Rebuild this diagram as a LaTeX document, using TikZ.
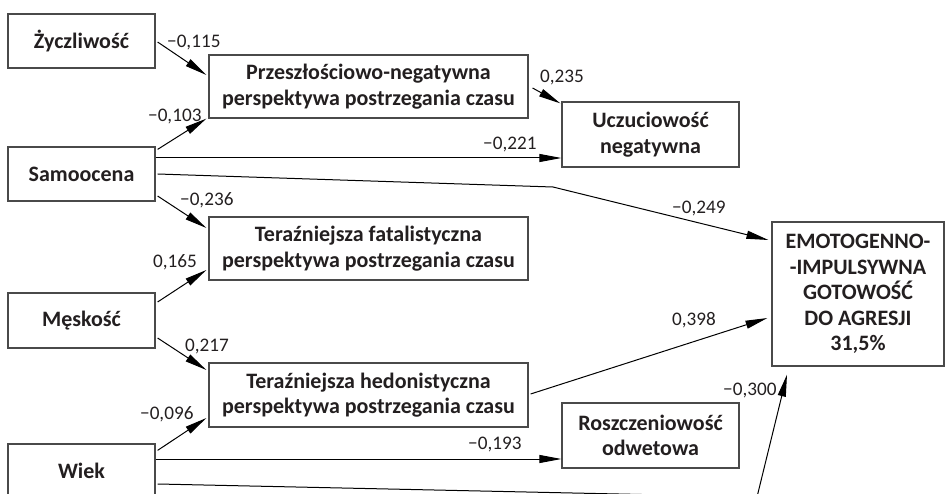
\documentclass[tikz,border=0pt]{standalone}
\usepackage{fontspec}
\setmainfont{Carlito}
\usetikzlibrary{arrows.meta}
\definecolor{txt}{HTML}{231F20}
\definecolor{frm}{HTML}{4A4A4A}
\tikzset{
  box/.style={draw=frm, line width=1.2pt, fill=white, align=center, inner sep=0pt,
    text=txt, font=\bfseries\fontsize{22}{25.5}\selectfont},
  lab/.style={anchor=base west, inner sep=0pt, text=txt, font=\fontsize{19.2}{22}\selectfont},
  arr/.style={draw=black, line width=1pt, -{Triangle[length=22pt,width=8pt]}},
}
\begin{document}
\begin{tikzpicture}[x=1pt,y=-1pt]
\useasboundingbox (0,0) rectangle (945,494);
\clip (0,0) rectangle (945,494);
% boxes
\node[box, minimum width=147pt, minimum height=54pt] (zy) at (81.5,41) {Życzliwość};
\node[box, minimum width=319pt, minimum height=63pt] (prz) at (368.5,86.5) {Przeszłościowo-negatywna\\perspektywa postrzegania czasu};
\node[box, minimum width=147pt, minimum height=54pt] (sam) at (81.5,174) {Samoocena};
\node[box, minimum width=177pt, minimum height=65pt] (ucz) at (650.5,134.5) {Uczuciowość\\negatywna};
\node[box, minimum width=319pt, minimum height=63pt] (fat) at (368.5,248.5) {Teraźniejsza fatalistyczna\\perspektywa postrzegania czasu};
\node[box, minimum width=147pt, minimum height=55pt] (mes) at (81.5,320.5) {Męskość};
\node[box, minimum width=319pt, minimum height=64pt] (hed) at (368.5,395) {Teraźniejsza hedonistyczna\\perspektywa postrzegania czasu};
\node[box, minimum width=177pt, minimum height=65pt] (ros) at (650.5,435.5) {Roszczeniowość\\odwetowa};
\node[box, minimum width=147pt, minimum height=54pt] (wie) at (81.5,471) {Wiek};
\node[box, minimum width=172pt, minimum height=144pt] (emo) at (858,294) {EMOTOGENNO-\\-IMPULSYWNA\\GOTOWOŚĆ\\DO AGRESJI\\31,5\%};
% helper coordinates
\coordinate (u1) at ([yshift=-23.5pt]ucz.west);
\coordinate (r1) at ([yshift=-23.5pt]ros.west);
\coordinate (bend1) at (553,187);
\coordinate (bend2) at (757,497);
% connectors
\draw[arr] ([xshift=2pt,yshift=-1pt]zy.east) -- ([xshift=-2pt,yshift=11.5pt]prz.west);
\draw[arr] ([xshift=2pt,yshift=-3pt]sam.north east) -- ([xshift=-2pt]prz.south west);
\draw[arr] ([xshift=4pt,yshift=-1.5pt]prz.east) -- ([xshift=-1pt,yshift=-2pt]ucz.north west);
\draw[arr] (sam.east |- u1) -- (u1);
\draw[arr] ([xshift=2pt]sam.east) -- (bend1) -- ([xshift=-3pt,yshift=54pt]emo.west);
\draw[arr] ([xshift=2pt,yshift=-22pt]sam.east) -- ([xshift=-2pt,yshift=20.5pt]fat.west);
\draw[arr] ([xshift=2pt,yshift=18.5pt]mes.east) -- ([xshift=-2pt,yshift=-21.5pt]fat.west);
\draw[arr] ([xshift=2pt,yshift=-17.5pt]mes.east) -- ([xshift=-2pt,yshift=25pt]hed.west);
\draw[arr] ([xshift=2pt,yshift=-7pt]wie.north east) -- ([xshift=-2pt,yshift=-23pt]hed.west);
\draw[arr] (wie.east |- r1) -- (r1);
\draw[arr] ([xshift=2pt,yshift=1pt]hed.east) -- ([xshift=-4pt,yshift=-24pt]emo.west);
\draw[arr] ([xshift=2pt,yshift=-13pt]wie.east) -- (bend2) -- ([xshift=-71pt,yshift=-8pt]emo.south);
% labels
\node[lab] (l1) at (167,48) {−0,115};
\node[lab] (l2) at (148,122) {−0,103};
\node[lab] (l3) at (180,206) {−0,236};
\node[lab] (l4) at (540,83) {0,235};
\node[lab] (l5) at (483,150) {−0,221};
\node[lab] (l6) at (672,214) {−0,249};
\node[lab] (l7) at (672,325) {0,398};
\node[lab] (l8) at (723,395) {−0,300};
\node[lab] (l9) at (153,268) {0,165};
\node[lab] (l10) at (185,352) {0,217};
\node[lab] (l11) at (140,419) {−0,096};
\node[lab] (l12) at (468,449) {−0,193};
\end{tikzpicture}
\end{document}
